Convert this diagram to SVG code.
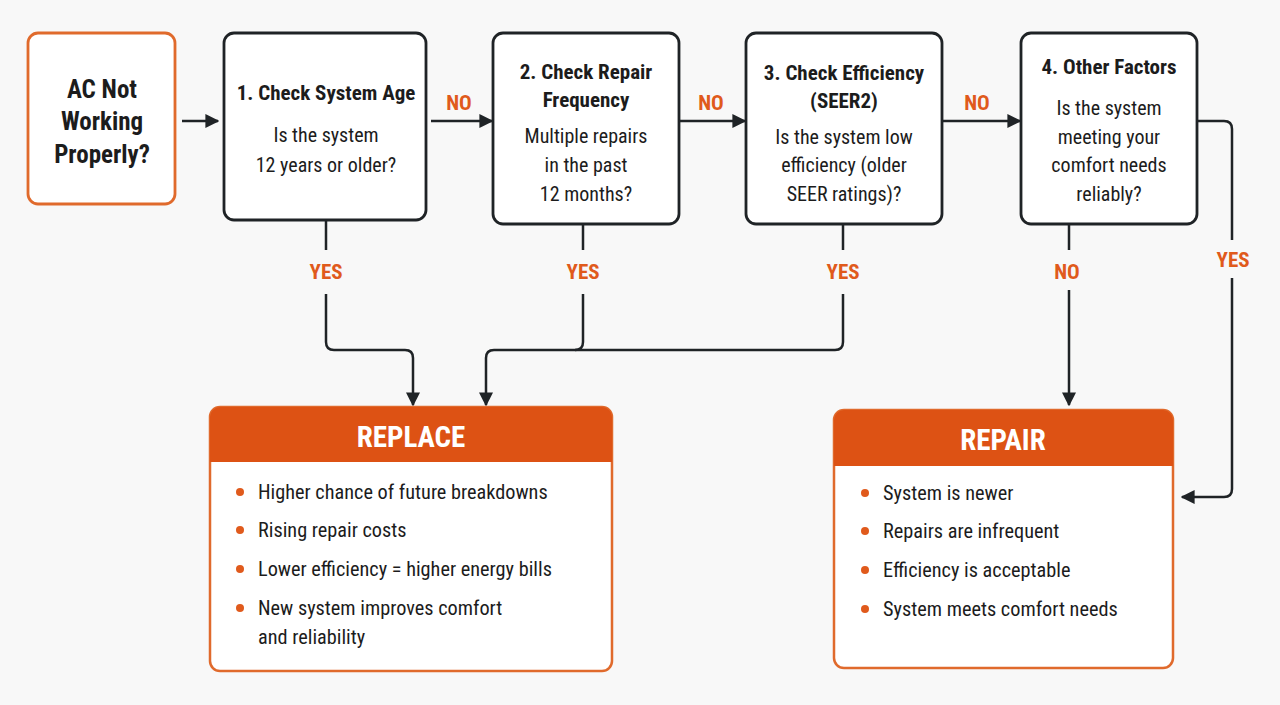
<svg xmlns="http://www.w3.org/2000/svg" width="1280" height="705" viewBox="0 0 1280 705">
<defs>
<marker id="ah" viewBox="0 0 10 10" refX="9" refY="5" markerWidth="14" markerHeight="14" markerUnits="userSpaceOnUse" orient="auto">
<path d="M0,0 L10,5 L0,10 Z" fill="#1f2326"/>
</marker>
<style>
text{font-family:"Liberation Sans Narrow","Roboto Condensed","Liberation Sans",sans-serif;fill:#1c1c1c}
.box{fill:#ffffff;stroke:#1f2326;stroke-width:2.8}
.t{font-size:21px;font-weight:bold;text-anchor:middle}
.b{font-size:20px;text-anchor:middle}
.lab{font-size:21px;font-weight:bold;fill:#e05a1c;text-anchor:middle}
.c{fill:none;stroke:#1f2326;stroke-width:2.5}
.hd{fill:#dd5214}
.ht{font-size:29px;font-weight:bold;fill:#ffffff;text-anchor:middle}
.li{font-size:20.3px}
.dot{fill:#e05a1c}
</style>
</defs>
<rect width="1280" height="705" fill="#f8f8f8"/>

<g id="start">
<rect x="28" y="33" width="147" height="171" rx="10" fill="#ffffff" stroke="#e06a2c" stroke-width="2.8"/>
<text x="102" y="98" class="t" style="font-size:25px">AC Not</text>
<text x="102" y="130" class="t" style="font-size:25px">Working</text>
<text x="102" y="163" class="t" style="font-size:25px">Properly?</text>
</g>

<g id="step1">
<rect x="224" y="33" width="202" height="187" rx="10" class="box"/>
<text x="326" y="100" class="t">1. Check System Age</text>
<text x="326" y="142" class="b">Is the system</text>
<text x="326" y="172" class="b">12 years or older?</text>
</g>

<g id="step2">
<rect x="493" y="33" width="186" height="191" rx="10" class="box"/>
<text x="586" y="79" class="t">2. Check Repair</text>
<text x="586" y="107" class="t">Frequency</text>
<text x="586" y="143" class="b">Multiple repairs</text>
<text x="586" y="172" class="b">in the past</text>
<text x="586" y="201" class="b">12 months?</text>
</g>

<g id="step3">
<rect x="746" y="33" width="196" height="191" rx="10" class="box"/>
<text x="844" y="80" class="t">3. Check Efficiency</text>
<text x="844" y="108" class="t">(SEER2)</text>
<text x="844" y="144" class="b">Is the system low</text>
<text x="844" y="172" class="b">efficiency (older</text>
<text x="844" y="201" class="b">SEER ratings)?</text>
</g>

<g id="step4">
<rect x="1021" y="33" width="176" height="191" rx="10" class="box"/>
<text x="1109" y="74" class="t">4. Other Factors</text>
<text x="1109" y="115" class="b">Is the system</text>
<text x="1109" y="144" class="b">meeting your</text>
<text x="1109" y="172" class="b">comfort needs</text>
<text x="1109" y="201" class="b">reliably?</text>
</g>

<g id="replace">
<rect x="210" y="407" width="402" height="264" rx="10" fill="#ffffff" stroke="#e06a2c" stroke-width="2.5"/>
<path d="M210,462 V417 a10,10 0 0 1 10,-10 H602 a10,10 0 0 1 10,10 V462 Z" class="hd"/>
<text x="411" y="447" class="ht">REPLACE</text>
<circle cx="240" cy="492" r="4" class="dot"/>
<text x="258" y="499" class="li">Higher chance of future breakdowns</text>
<circle cx="240" cy="530" r="4" class="dot"/>
<text x="258" y="537" class="li">Rising repair costs</text>
<circle cx="240" cy="569" r="4" class="dot"/>
<text x="258" y="576" class="li">Lower efficiency = higher energy bills</text>
<circle cx="240" cy="608" r="4" class="dot"/>
<text x="258" y="615" class="li">New system improves comfort</text>
<text x="258" y="644" class="li">and reliability</text>
</g>

<g id="repair">
<rect x="834" y="410" width="339" height="258" rx="10" fill="#ffffff" stroke="#e06a2c" stroke-width="2.5"/>
<path d="M834,466 V420 a10,10 0 0 1 10,-10 H1163 a10,10 0 0 1 10,10 V466 Z" class="hd"/>
<text x="1003" y="450" class="ht">REPAIR</text>
<circle cx="865" cy="493" r="4" class="dot"/>
<text x="883" y="500" class="li">System is newer</text>
<circle cx="865" cy="531" r="4" class="dot"/>
<text x="883" y="538" class="li">Repairs are infrequent</text>
<circle cx="865" cy="570" r="4" class="dot"/>
<text x="883" y="577" class="li">Efficiency is acceptable</text>
<circle cx="865" cy="609" r="4" class="dot"/>
<text x="883" y="616" class="li">System meets comfort needs</text>
</g>

<g id="connectors">
<path d="M182,121 H218" class="c" marker-end="url(#ah)"/>
<path d="M431,121 H492" class="c" marker-end="url(#ah)"/>
<text x="459" y="110" class="lab">NO</text>
<path d="M679,121 H745" class="c" marker-end="url(#ah)"/>
<text x="711" y="110" class="lab">NO</text>
<path d="M942,121 H1020" class="c" marker-end="url(#ah)"/>
<text x="977" y="110" class="lab">NO</text>

<path d="M326,220 V250" class="c"/>
<text x="326" y="279" class="lab">YES</text>
<path d="M326,294 V342 q0,8 8,8 H405 q8,0 8,8 V405" class="c" marker-end="url(#ah)"/>

<path d="M583,224 V250" class="c"/>
<text x="583" y="279" class="lab">YES</text>
<path d="M583,294 V342 q0,8 -8,8" class="c"/>

<path d="M843,224 V250" class="c"/>
<text x="843" y="279" class="lab">YES</text>
<path d="M843,294 V342 q0,8 -8,8 H494 q-8,0 -8,8 V405" class="c" marker-end="url(#ah)"/>

<path d="M1069,224 V250" class="c"/>
<text x="1067" y="279" class="lab">NO</text>
<path d="M1069,290 V405" class="c" marker-end="url(#ah)"/>

<path d="M1197,121 H1224 q8,0 8,8 V240" class="c"/>
<text x="1233" y="267" class="lab">YES</text>
<path d="M1232,278 V489 q0,8 -8,8 H1182" class="c" marker-end="url(#ah)"/>
</g>
</svg>
